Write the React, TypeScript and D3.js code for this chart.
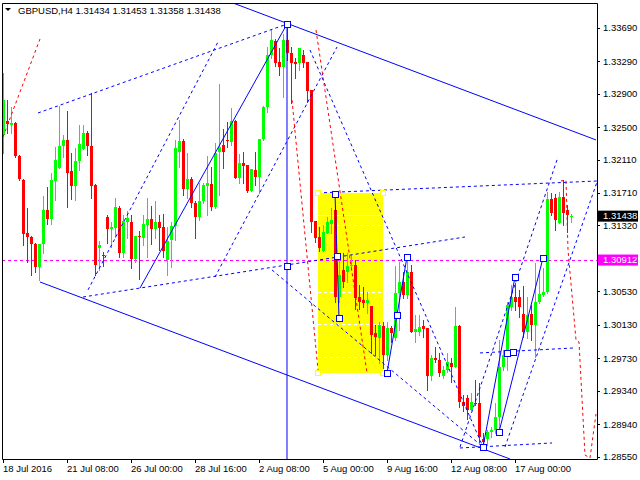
import React from 'react';
import * as d3 from 'd3';

const symbolTitle = 'GBPUSD,H4  1.31434 1.31453 1.31358 1.31438';

const opens = [1.32405,1.32572,1.32524,1.32548,1.32153,1.31865,1.31231,1.31183,1.31099,1.30823,1.31099,1.31506,1.31398,1.31853,1.32009,1.32273,1.32345,1.31973,1.31793,1.32093,1.32237,1.32428,1.32273,1.31805,1.31051,1.30969,1.31422,1.31278,1.31290,1.31530,1.30990,1.31362,1.31362,1.30919,1.31195,1.31171,1.31326,1.31398,1.31278,1.31362,1.31302,1.30907,1.31147,1.31314,1.32201,1.32333,1.31758,1.31877,1.31590,1.31422,1.31614,1.31793,1.31817,1.31542,1.32201,1.32285,1.32345,1.32321,1.32572,1.31889,1.32069,1.32045,1.31734,1.31985,1.31901,1.32357,1.32740,1.33363,1.33531,1.33279,1.33219,1.33543,1.33387,1.33279,1.33267,1.33363,1.33279,1.32944,1.31374,1.31183,1.31015,1.31230,1.31338,1.31506,1.30464,1.30787,1.30763,1.30835,1.30847,1.30464,1.30428,1.30392,1.30356,1.30033,1.29973,1.30116,1.29769,1.30092,1.29973,1.30512,1.30643,1.30488,1.30763,1.30044,1.30044,1.30116,1.30092,1.29517,1.29733,1.29709,1.29517,1.29589,1.29673,1.29625,1.30116,1.29205,1.29253,1.29110,1.29193,1.29193,1.28762,1.28762,1.28846,1.28870,1.29026,1.29625,1.29769,1.30344,1.30464,1.30464,1.30260,1.30044,1.30260,1.30128,1.30404,1.30488,1.30524,1.31638,1.31650,1.31350,1.31662,1.31506,1.31434];
const highs = [1.33147,1.32824,1.32740,1.32560,1.32165,1.31877,1.31530,1.31195,1.31111,1.31099,1.31674,1.31782,1.31949,1.32261,1.32752,1.32404,1.32692,1.32189,1.32249,1.32524,1.32524,1.32452,1.32908,1.31817,1.31135,1.31003,1.31446,1.31362,1.31650,1.31554,1.31446,1.31494,1.31446,1.31195,1.31255,1.31446,1.31650,1.31554,1.31614,1.31446,1.31458,1.31302,1.31362,1.32345,1.32584,1.32357,1.32189,1.31901,1.31614,1.31829,1.31829,1.32153,1.32021,1.32309,1.33015,1.32476,1.32560,1.32728,1.32584,1.32177,1.32201,1.32045,1.31997,1.32201,1.32357,1.32752,1.33459,1.33663,1.33555,1.33447,1.33615,1.33735,1.33459,1.33327,1.33447,1.33423,1.33279,1.32944,1.31374,1.31302,1.31326,1.31422,1.31530,1.31542,1.30991,1.30991,1.30991,1.30967,1.30907,1.30607,1.30583,1.30523,1.30356,1.30128,1.30164,1.30164,1.30164,1.30116,1.30835,1.30883,1.30763,1.30907,1.30847,1.30248,1.30248,1.30188,1.30092,1.29769,1.29865,1.29793,1.29637,1.29793,1.29733,1.30344,1.30128,1.29289,1.29289,1.29313,1.29469,1.29433,1.28834,1.28870,1.28906,1.29193,1.29948,1.29829,1.30404,1.30607,1.30631,1.30548,1.30595,1.30464,1.30368,1.30871,1.30787,1.30811,1.31722,1.31710,1.31698,1.31722,1.31865,1.31566,1.31453];
const lows = [1.32189,1.32428,1.32428,1.32141,1.31865,1.31087,1.30883,1.30727,1.30763,1.30667,1.30990,1.31338,1.31338,1.31626,1.32009,1.32141,1.31542,1.31638,1.31626,1.31985,1.32237,1.32165,1.31650,1.30727,1.30787,1.30835,1.31111,1.31063,1.31183,1.30943,1.30943,1.31171,1.30811,1.30883,1.30679,1.31087,1.30943,1.31099,1.31171,1.31027,1.30943,1.30727,1.30823,1.31147,1.32021,1.31686,1.31650,1.31542,1.31171,1.31386,1.31590,1.31446,1.31506,1.31530,1.31686,1.32009,1.32261,1.32285,1.31889,1.31829,1.31829,1.31722,1.31734,1.31805,1.31710,1.32345,1.32680,1.33327,1.33231,1.33123,1.32860,1.33303,1.32788,1.33087,1.33183,1.33219,1.32800,1.31242,1.31123,1.31015,1.31015,1.31230,1.31230,1.30404,1.30404,1.30583,1.30643,1.30787,1.30320,1.30320,1.30344,1.30272,1.29793,1.29769,1.29673,1.29613,1.29709,1.29924,1.29948,1.30068,1.30452,1.30452,1.30044,1.29924,1.30009,1.29984,1.29349,1.29469,1.29685,1.29517,1.29493,1.29565,1.29445,1.29625,1.29145,1.29097,1.29002,1.29110,1.29169,1.28726,1.28666,1.28690,1.28786,1.28834,1.28834,1.29589,1.29589,1.30308,1.30308,1.30224,1.29984,1.29973,1.29948,1.29745,1.30392,1.30476,1.30512,1.31446,1.31267,1.31350,1.31326,1.31242,1.31358];
const closes = [1.32824,1.32536,1.32548,1.32153,1.31877,1.31219,1.31183,1.31099,1.30823,1.31099,1.31506,1.31398,1.31865,1.32105,1.32273,1.32345,1.31949,1.31793,1.32093,1.32297,1.32428,1.32273,1.31793,1.30847,1.31087,1.30963,1.31278,1.31302,1.31542,1.30990,1.31374,1.31410,1.30919,1.31195,1.31183,1.31338,1.31398,1.31278,1.31362,1.31290,1.31015,1.31135,1.31314,1.32249,1.32333,1.31758,1.31877,1.31590,1.31422,1.31614,1.31805,1.31829,1.31542,1.32189,1.32261,1.32201,1.32333,1.32572,1.31889,1.32069,1.32033,1.31734,1.31997,1.31901,1.32357,1.32740,1.33363,1.33543,1.33267,1.33219,1.33543,1.33387,1.33267,1.33255,1.33447,1.33267,1.32932,1.31362,1.31171,1.31051,1.31242,1.31362,1.31386,1.30464,1.30727,1.30643,1.30835,1.30847,1.30452,1.30404,1.30392,1.30428,1.30009,1.29985,1.30128,1.29769,1.30092,1.30033,1.30512,1.30643,1.30488,1.30763,1.30044,1.30080,1.30104,1.30080,1.29517,1.29733,1.29709,1.29553,1.29589,1.29685,1.29625,1.30116,1.29205,1.29157,1.29110,1.29205,1.29181,1.28786,1.28726,1.28846,1.28870,1.29026,1.29625,1.29769,1.30368,1.30464,1.30404,1.30344,1.30044,1.30248,1.30128,1.30404,1.30500,1.30524,1.31638,1.31470,1.31386,1.31662,1.31470,1.31446,1.31438];

const timeTickBars = [0, 16, 32, 48, 64, 80, 96, 112, 128];
const timeTickLabels = ['18 Jul 2016', '21 Jul 08:00', '26 Jul 00:00', '28 Jul 16:00', '2 Aug 08:00', '5 Aug 00:00', '9 Aug 16:00', '12 Aug 08:00', '17 Aug 00:00'];
const priceTicks = [1.3369, 1.3329, 1.329, 1.325, 1.3211, 1.3171, 1.3132, 1.3053, 1.3013, 1.2973, 1.2934, 1.2894, 1.2855];

const lastPrice = 1.31438;
const hLinePrice = 1.30912;

// analysis objects in (bar index, price)
const solidBlueLines = [
  [[57.5, 1.33986], [148.25, 1.32345]],
  [[9.25, 1.30643], [126.75, 1.28522]],
  [[34.25, 1.30571], [71, 1.33734]],
  [[71, 1.33734], [71, 1.28522]],
  [[83, 1.31698], [83.5, 1.30955], [84, 1.30212]],
  [[96, 1.29553], [98.5, 1.30248], [101, 1.30943]],
  [[120, 1.28666], [128, 1.30703]],
  [[124, 1.28846], [135, 1.30931]],
];
const dashedBlueLines = [
  [[8.75, 1.32668], [71, 1.33734]],
  [[20, 1.30463], [115.5, 1.31182]],
  [[21.25, 1.30548], [53.75, 1.33519]],
  [[53, 1.30703], [83.5, 1.33459]],
  [[76.75, 1.33423], [120, 1.28666]],
  [[67.25, 1.30787], [120, 1.28666]],
  [[78.75, 1.3171], [148.5, 1.31853]],
  [[114.25, 1.28666], [138.75, 1.32141]],
  [[125.5, 1.28666], [148.5, 1.31841]],
  [[119.25, 1.29793], [142.5, 1.29852]],
  [[114.25, 1.28654], [137.25, 1.28714]],
];
const redDashedLines = [
  [[0, 1.3238], [9.25, 1.33555]],
  [[78.25, 1.33663], [91, 1.29553]],
  [[72.25, 1.32824], [78.75, 1.29589]],
  [[139.5, 1.31853], [140.75, 1.31865], [141.25, 1.31027], [143.25, 1.29948], [144, 1.29924], [145.5, 1.2857], [146.75, 1.28534], [148.25, 1.29062]],
];
const markerPoints = [
  [71, 1.33734], [71, 1.30835], [83, 1.31698], [83.5, 1.30955], [84, 1.30212],
  [96, 1.29553], [98.5, 1.30248], [101, 1.30943], [120, 1.28666], [124, 1.28846],
  [126, 1.29793], [127.5, 1.29805], [128, 1.30703], [135, 1.30931],
];
const yellowBox = { i0: 78.75, i1: 95, p0: 1.3171, p1: 1.29553 };
const boxLevels = [1.31446, 1.31326, 1.30524, 1.3014, 1.29745];

export default function App() {
  const L = 2, T = 3, R = 597, B = 459;
  const x = d3.scaleLinear().domain([-0.25, 148.5]).range([L, R]);
  const y = d3.scaleLinear().domain([1.28522, 1.33986]).range([B, T]);
  const line = d3.line<number[]>().x(d => x(d[0])).y(d => y(d[1]));
  const font = "'Liberation Sans', Arial, sans-serif";

  const candles = opens.map((o, i) => {
    const c = closes[i];
    const cx = Math.round(x(i));
    const up = c >= o;
    const col = up ? '#00ff00' : '#ff0000';
    const yo = Math.round(y(o)), yc = Math.round(y(c));
    const top = Math.min(yo, yc);
    const h = Math.max(1, Math.abs(yo - yc));
    return (
      <g key={i}>
        <line x1={cx + 0.5} x2={cx + 0.5} y1={Math.round(y(highs[i]))} y2={Math.round(y(lows[i])) + 1} stroke={col} strokeWidth={1} />
        <rect x={cx - 1} y={top} width={3} height={h} fill={col} />
      </g>
    );
  });

  const bx0 = x(yellowBox.i0), bx1 = x(yellowBox.i1);
  const by0 = y(yellowBox.p0), by1 = y(yellowBox.p1);

  return (
    <svg width={640} height={480} style={{ position: 'fixed', left: 0, top: 0, background: '#fff' }} fontFamily={font}>
      <defs>
        <clipPath id="plot"><rect x={L} y={T} width={R - L} height={B - T} /></clipPath>
      </defs>
      <rect x={0} y={0} width={640} height={480} fill="#fff" />
      <g clipPath="url(#plot)">
        <rect x={bx0} y={by0} width={bx1 - bx0} height={by1 - by0} fill="#ffff00" />
        {boxLevels.map((p, k) => (
          <line key={k} x1={bx0} x2={bx1} y1={Math.round(y(p)) + 0.5} y2={Math.round(y(p)) + 0.5} stroke="#fff" strokeDasharray={k === 0 ? undefined : '3,3'} />
        ))}
        <line x1={L} x2={R} y1={Math.round(y(hLinePrice)) + 0.5} y2={Math.round(y(hLinePrice)) + 0.5} stroke="#ff00ff" strokeDasharray="3,3" />
        {candles}
        {dashedBlueLines.map((pts, k) => (
          <path key={'db' + k} d={line(pts) || ''} fill="none" stroke="#0000ff" strokeWidth={1} strokeDasharray="3,3" />
        ))}
        {solidBlueLines.map((pts, k) => (
          <path key={'sb' + k} d={line(pts) || ''} fill="none" stroke="#0000ff" strokeWidth={1} />
        ))}
        {redDashedLines.map((pts, k) => (
          <path key={'rd' + k} d={line(pts) || ''} fill="none" stroke="#ff0000" strokeWidth={1} strokeDasharray="3,3" />
        ))}
        {[[bx0, by0], [bx1, by0], [bx0, by1], [bx1, by1]].map(([px, py], k) => (
          <rect key={'yc' + k} x={px - 2.5} y={py - 2.5} width={5} height={5} fill="#fff" stroke="#ffff00" />
        ))}
        {markerPoints.map((p, k) => (
          <rect key={'m' + k} x={Math.round(x(p[0])) - 2.5} y={Math.round(y(p[1])) - 2.5} width={6} height={6} fill="#fff" stroke="#0000ff" />
        ))}
      </g>
      {/* frame */}
      <path d={`M${L + 0.5},${T + 0.5}H${R + 0.5}V${B + 0.5}H${L + 0.5}Z`} fill="none" stroke="#000" />
      {/* price axis */}
      {priceTicks.map((p, k) => (
        <g key={'pt' + k}>
          <line x1={R} x2={R + 3} y1={Math.round(y(p)) + 0.5} y2={Math.round(y(p)) + 0.5} stroke="#000" />
          <text x={603} y={y(p) + 3.5} fontSize={9.5} fill="#000">{p.toFixed(5)}</text>
        </g>
      ))}
      <rect x={R + 1} y={y(hLinePrice) - 5} width={40} height={11} fill="#ff00ff" />
      <text x={603} y={y(hLinePrice) + 3.5} fontSize={9.5} fill="#fff">{hLinePrice.toFixed(5)}</text>
      <rect x={R + 1} y={y(lastPrice) - 5} width={40} height={11} fill="#000" />
      <text x={603} y={y(lastPrice) + 3.5} fontSize={9.5} fill="#fff">{lastPrice.toFixed(5)}</text>
      {/* time axis */}
      {timeTickBars.map((b, k) => (
        <g key={'tt' + k}>
          <line x1={Math.round(x(b)) + 0.5} x2={Math.round(x(b)) + 0.5} y1={B} y2={B + 4} stroke="#000" />
          <text x={Math.round(x(b))} y={B + 13} fontSize={9.5} fill="#000">{timeTickLabels[k]}</text>
        </g>
      ))}
      {/* title */}
      <path d="M5,8 L11,8 L8,11 Z" fill="#000" />
      <text x={18} y={14} fontSize={9.5} fill="#000">{symbolTitle}</text>
    </svg>
  );
}
